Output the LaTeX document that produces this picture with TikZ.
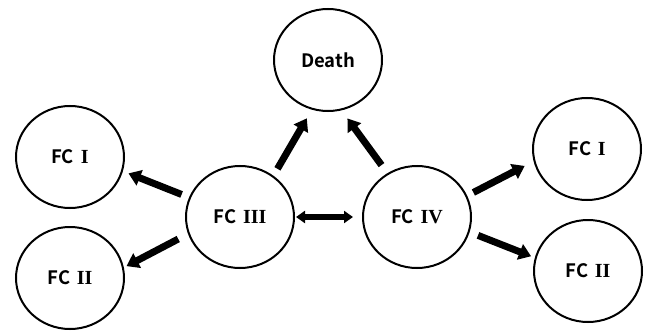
\documentclass[tikz,border=0pt]{standalone}
\usepackage{fontspec}
\newfontfamily\krfont{Noto Sans CJK KR Bold}
\newfontfamily\numfont{Liberation Serif Bold}
\newcommand{\rn}[1]{\hspace{2.5pt}{\numfont\fontsize{20}{22}\selectfont #1}}
\usetikzlibrary{shapes.geometric,arrows.meta}

\tikzset{
  state/.style={ellipse, draw, line width=2pt, minimum width=108pt,
    minimum height=102pt, inner sep=0pt, font=\krfont\fontsize{18.5}{22}\selectfont},
  flow/.style={line width=7pt, -{Triangle[length=12pt,width=16pt]}},
  swap/.style={line width=5.5pt, {Triangle[length=9pt,width=12pt]}-{Triangle[length=9pt,width=12pt]}}
}

\begin{document}
\begin{tikzpicture}[x=1pt,y=-1pt]
  \useasboundingbox (0,0) rectangle (647,334);

  % states
  \node[state] (death) at (328,60)  {Death};
  \node[state] (fc3)   at (240,217) {FC \rn{III}};
  \node[state] (fc4)   at (417,217) {FC \rn{IV}};
  \node[state] (l1)    at (70,157)  {FC \rn{I}};
  \node[state] (l2)    at (70,278)  {FC \rn{II}};
  \node[state] (r1)    at (587,149) {FC \rn{I}};
  \node[state] (r2)    at (588,271) {FC \rn{II}};

  % transitions out of FC III
  \draw[flow, shorten <=8pt, shorten >=6pt]  (fc3.159) -- (l1.-15);
  \draw[flow, shorten <=11pt, shorten >=3pt] (fc3.198) -- (l2.11);
  \draw[flow, shorten <=8pt, shorten >=10pt] (fc3.51)  -- (death.252);

  % transitions out of FC IV
  \draw[flow, shorten <=10pt, shorten >=10pt] (fc4.124) -- (death.285);
  \draw[flow, shorten <=7pt, shorten >=10pt]  (fc4.23)  -- (r1.193);
  \draw[flow, shorten <=9pt, shorten >=4pt]   (fc4.-16) -- (r2.166);

  % exchange between FC III and FC IV
  \draw[swap, shorten <=1pt, shorten >=9pt] (fc3.east) -- (fc4.west);
\end{tikzpicture}
\end{document}
